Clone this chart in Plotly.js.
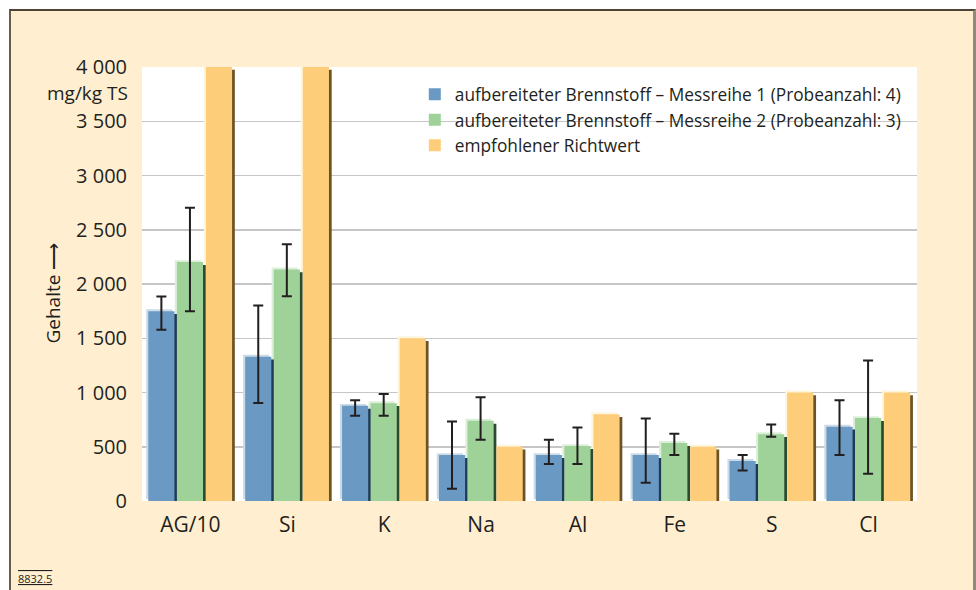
<!DOCTYPE html>
<html>
<head>
<meta charset="utf-8">
<script src="https://cdn.plot.ly/plotly-3.0.1.min.js"></script>
<style>
  html, body { margin:0; padding:0; background:#ffffff; width:976px; height:590px; overflow:hidden; }
  #frame { position:absolute; left:9px; top:9px; width:962px; height:640px; background:#ffefd0;
           border-top:2px solid #4e4334; border-left:2px solid #6b5c4a; border-right:3px solid #8f897f; }
  #chart { position:absolute; left:0; top:0; width:976px; height:590px; }
</style>
</head>
<body>
<div id="frame"></div>
<div id="chart"></div>
<script>
// ---- data ----
const categories = ['AG/10', 'Si', 'K', 'Na', 'Al', 'Fe', 'S', 'Cl'];
const series1Name = 'aufbereiteter Brennstoff – Messreihe 1 (Probeanzahl: 4)';
const series2Name = 'aufbereiteter Brennstoff – Messreihe 2 (Probeanzahl: 3)';
const series3Name = 'empfohlener Richtwert';
const messreihe1      = [1750, 1330, 877, 423, 423, 423, 368, 684];
const messreihe1Plus  = [135, 472, 52, 310, 141, 338, 55, 245];
const messreihe1Minus = [171, 427, 92, 310, 83, 254, 86, 261];
const messreihe2      = [2202, 2134, 901, 739, 506, 534, 616, 764];
const messreihe2Plus  = [500, 233, 86, 218, 172, 85, 89, 530];
const messreihe2Minus = [454, 248, 116, 175, 166, 111, 24, 513];
const richtwert       = [4000, 4000, 1500, 500, 800, 500, 1000, 1000];
const yTickVals = [0, 500, 1000, 1500, 2000, 2500, 3000, 3500, 4000];

// ---- styles ----
const FONT = '"Open Sans", Roboto, "Liberation Sans", sans-serif';
const TXT = '#231f20';
const BAR_W = 0.27;
const specs = [
  {name: series1Name, y: messreihe1, plus: messreihe1Plus, minus: messreihe1Minus,
   color: '#6a9ac3', shadow: '#1f3a55', light: '#cbdbe8', off: -0.435},
  {name: series2Name, y: messreihe2, plus: messreihe2Plus, minus: messreihe2Minus,
   color: '#9ed299', shadow: '#2c4a2e', light: '#dcefd9', off: -0.14},
  {name: series3Name, y: richtwert, plus: null, minus: null,
   color: '#fecd7a', shadow: '#6b5326', light: '#fff4dc', off: 0.16}
];

const traces = [];
// highlight layer (up-left)
specs.forEach(s => traces.push({
  type: 'bar', x: categories, y: s.y, base: 18, offset: s.off - 0.022, width: BAR_W,
  marker: {color: s.light, line: {width: 0}}, showlegend: false, hoverinfo: 'skip', cliponaxis: false
}));
// shadow layer (down-right)
specs.forEach(s => traces.push({
  type: 'bar', x: categories, y: s.y, base: -26, offset: s.off + 0.028, width: BAR_W,
  marker: {color: s.shadow, line: {width: 0}}, showlegend: false, hoverinfo: 'skip', cliponaxis: false
}));
// main bars
specs.forEach(s => {
  const t = {
    type: 'bar', name: s.name, x: categories, y: s.y, offset: s.off, width: BAR_W,
    marker: {color: s.color, line: {width: 0}}, cliponaxis: false
  };
  if (s.plus) {
    t.error_y = {type: 'data', symmetric: false, array: s.plus, arrayminus: s.minus,
                 color: '#231f20', thickness: 2, width: 5};
  }
  traces.push(t);
});

const layout = {
  width: 976, height: 590,
  margin: {l: 142, r: 59, t: 67, b: 89},
  paper_bgcolor: 'rgba(0,0,0,0)',
  plot_bgcolor: '#ffffff',
  barmode: 'overlay',
  separators: ', ',
  font: {family: FONT, color: TXT, size: 19},
  showlegend: true,
  legend: {
    x: 0.352, y: 0.978, xanchor: 'left', yanchor: 'top',
    bgcolor: 'rgba(0,0,0,0)', font: {family: FONT, size: 17.3, color: TXT},
    tracegroupgap: 0, itemwidth: 30
  },
  xaxis: {
    type: 'category', range: [-0.5, 7.5], showgrid: false, zeroline: false, showline: false,
    ticks: 'outside', ticklen: 5, tickcolor: 'rgba(0,0,0,0)',
    tickfont: {family: FONT, size: 21, color: TXT}, fixedrange: true
  },
  yaxis: {
    range: [0, 4000], tickvals: yTickVals, tickformat: ',d',
    showgrid: true, gridcolor: '#c6c6c6', gridwidth: 1.5,
    zeroline: false, showline: false,
    ticks: 'outside', ticklen: 10, tickcolor: 'rgba(0,0,0,0)',
    tickfont: {family: FONT, size: 20, color: TXT}, fixedrange: true
  },
  annotations: [
    {text: 'mg/kg TS', xref: 'paper', yref: 'paper', x: -0.0155, y: 0.94,
     xanchor: 'right', yanchor: 'middle', showarrow: false,
     font: {family: FONT, size: 19, color: TXT}},
    {text: 'Gehalte ⟶', xref: 'paper', yref: 'paper', x: -0.115, y: 0.48,
     xanchor: 'center', yanchor: 'middle', textangle: -90, showarrow: false,
     font: {family: FONT, size: 19, color: TXT}},
    {text: '<span style="text-decoration:underline overline">8832.5</span>',
     xref: 'paper', yref: 'paper', x: -0.162, y: -0.178,
     xanchor: 'left', yanchor: 'middle', showarrow: false,
     font: {family: FONT, size: 11, color: TXT}}
  ]
};

Plotly.newPlot('chart', traces, layout, {staticPlot: true, displayModeBar: false});
</script>
</body>
</html>
